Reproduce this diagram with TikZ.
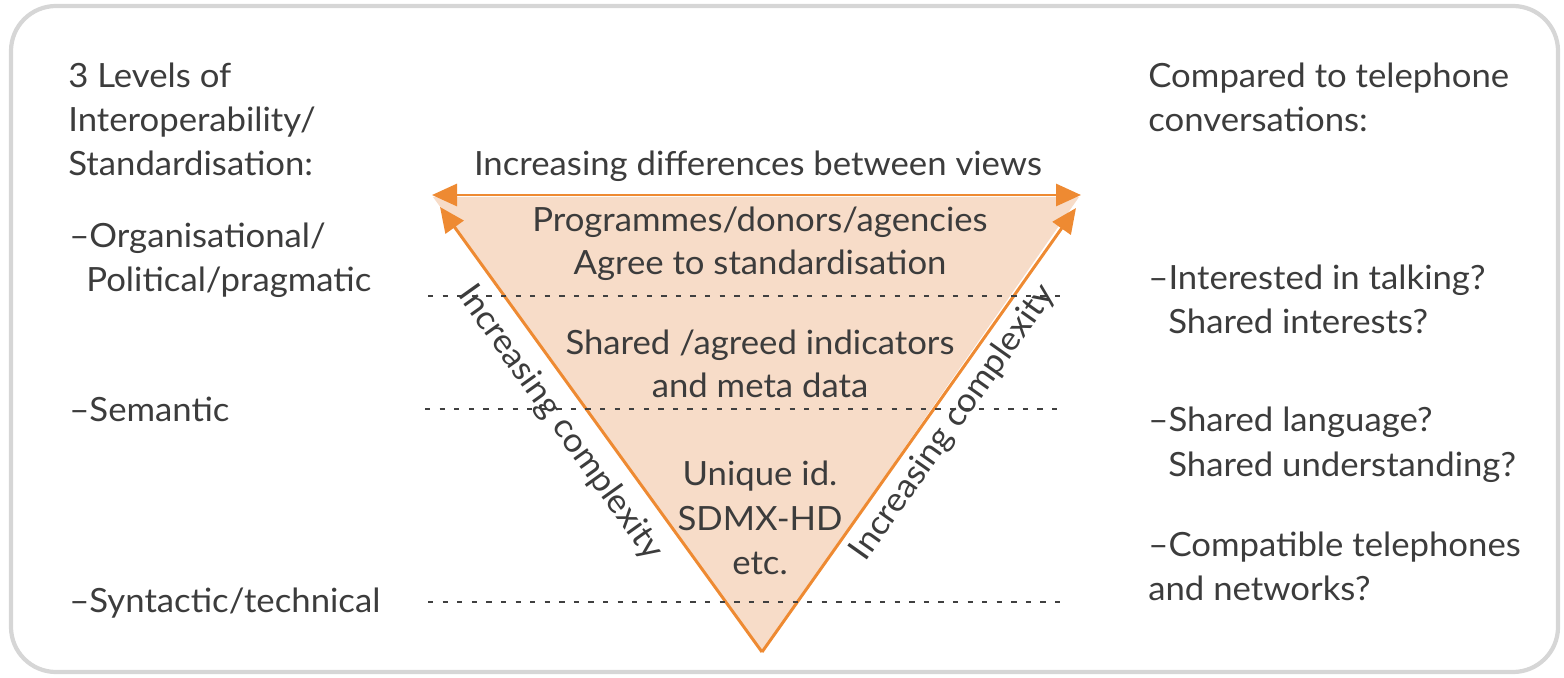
\documentclass[tikz,border=0pt]{standalone}
\usepackage{fontspec}
\setmainfont{Lato}[FakeStretch=1.04]
\usetikzlibrary{arrows.meta}
\definecolor{txt}{HTML}{3C3C3C}
\definecolor{org}{HTML}{EE8A32}
\definecolor{peach}{HTML}{F7DCC8}
\definecolor{frame}{HTML}{D6D6D6}
\definecolor{dots}{HTML}{404040}
\begin{document}
\begin{tikzpicture}[x=0.02cm,y=-0.02cm,
  lbl/.style={inner sep=0pt,text=txt,font=\fontsize{19}{25}\selectfont},
  lw/.style={lbl,anchor=base west},
  lc/.style={lbl,anchor=base},
  edge/.style={draw=org,line width=1.7pt},
  arr/.style={edge,-{Triangle[length=0.5cm,width=0.44cm]}},
  dotline/.style={draw=dots,line width=1.2pt,dash pattern=on 3pt off 5.3pt}]
\useasboundingbox (0,0) rectangle (1564,678);
\draw[frame,line width=2.4pt,rounded corners=0.9cm] (11,6) rectangle (1558,672);
% triangle
\coordinate (tl) at (433,197);
\coordinate (tr) at (1079,197);
\coordinate (bot) at (762,652);
\fill[peach] (tl) -- (tr) -- (bot) -- cycle;
\coordinate (al) at (440,207);
\coordinate (ar) at (1076,208);
\draw[arr] (bot) -- (al);
\draw[arr] (bot) -- (ar);
\coordinate (hl) at (432,195);
\coordinate (hr) at (1081,195);
\draw[edge,{Triangle[length=0.5cm,width=0.44cm]}-{Triangle[length=0.5cm,width=0.44cm]}] (hl) -- (hr);
% dotted lines
\coordinate (d1a) at (428,296); \coordinate (d1b) at (1066,296);
\coordinate (d2a) at (425,409); \coordinate (d2b) at (1058,409);
\coordinate (d3a) at (428,602); \coordinate (d3b) at (1066,602);
\draw[dotline] (d1a) -- (d1b);
\draw[dotline] (d2a) -- (d2b);
\draw[dotline] (d3a) -- (d3b);
% left texts
\node[lw] (L1) at (68,88) {3 Levels of};
\node[lw] (L2) at (68,132) {Interoperability/};
\node[lw] (L3) at (68,176) {Standardisation:};
\node[lw] (L4) at (69,248) {–Organisational/};
\node[lw] (L5) at (86,292) {Political/pragmatic};
\node[lw] (L6) at (69,421) {–Semantic};
\node[lw] (L7) at (69,612) {–Syntactic/technical};
% right texts
\node[lw] (R1) at (1148,88) {Compared to telephone};
\node[lw] (R2) at (1148,132) {conversations:};
\node[lw] (R3) at (1148,290) {–Interested in talking?};
\node[lw] (R4) at (1168,334) {Shared interests?};
\node[lw] (R5) at (1148,432) {–Shared language?};
\node[lw] (R6) at (1168,476) {Shared understanding?};
\node[lw] (R7) at (1148,556) {–Compatible telephones};
\node[lw] (R8) at (1148,600) {and networks?};
% centre texts
\node[lc] (C0) at (758,176) {Increasing differences between views};
\node[lc] (C1) at (760,232) {Programmes/donors/agencies};
\node[lc] (C2) at (760,275) {Agree to standardisation};
\node[lc] (C3) at (760,355) {Shared /agreed indicators};
\node[lc] (C4) at (760,398) {and meta data};
\node[lc] (C5) at (760,485) {Unique id.};
\node[lc] (C6) at (760,530) {SDMX-HD};
\node[lc] (C7) at (760,574) {etc.};
% rotated labels
\node[lbl,rotate=-54.5] (SL) at (560,423) {Increasing complexity};
\node[lbl,rotate=54.7] (SR) at (953,423) {Increasing complexity};
\end{tikzpicture}
\end{document}
